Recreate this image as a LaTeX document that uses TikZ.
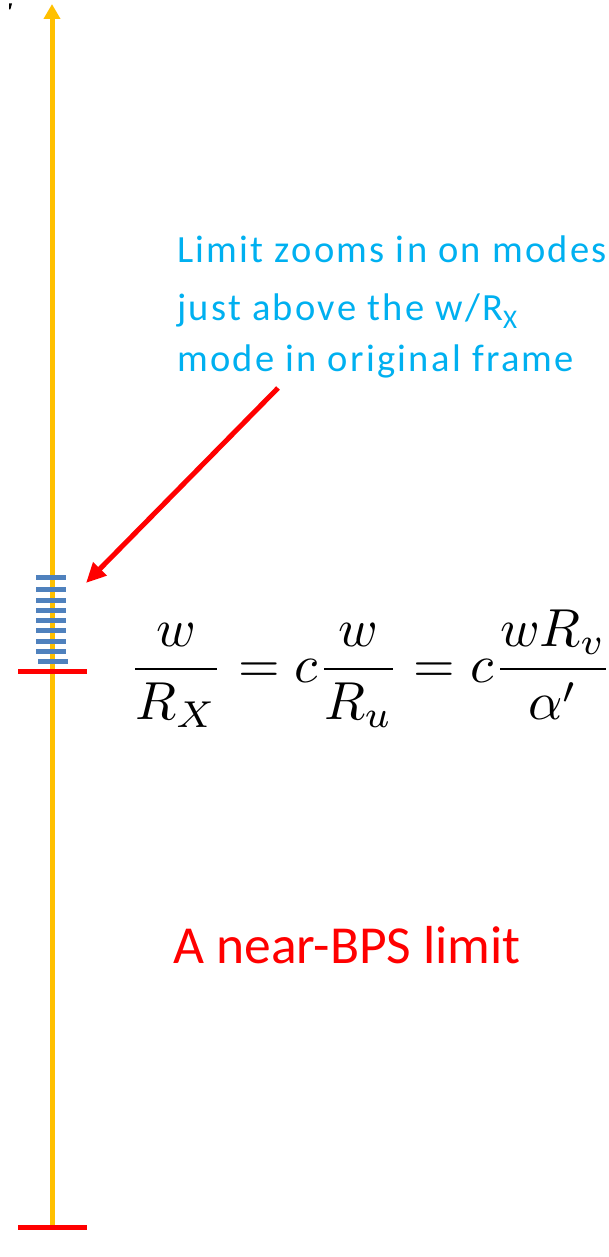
\documentclass[tikz,border=0pt]{standalone}
\usepackage{fontspec}
\setmainfont{Carlito}
\newfontfamily\notefont[LetterSpace=6.0]{Carlito}
\usetikzlibrary{arrows.meta}
\definecolor{axisgold}{HTML}{FFC000}
\definecolor{rungblue}{HTML}{4F81BD}
\definecolor{noteblue}{HTML}{00B0F0}
\definecolor{pptred}{HTML}{FF0000}
\tikzset{
  axisline/.style={draw=axisgold, line width=5pt, -{Triangle[length=15pt,width=16pt]}},
  redbar/.style={draw=pptred, line width=5pt},
  rung/.style={draw=rungblue, line width=5pt},
  pointer/.style={draw=pptred, line width=5pt, -{Triangle[length=20pt,width=18pt]}},
  notetext/.style={text=noteblue, font=\notefont\fontsize{38.5}{54.5}\selectfont, inner sep=0pt},
  bigtext/.style={text=pptred, font=\fontsize{53.5}{64}\selectfont, inner sep=0pt},
}
\begin{document}
\begin{tikzpicture}[x=1pt,y=-1pt]
\useasboundingbox (0,0) rectangle (608,1257);
% fragment at top-left
\fill[black] (9,3.5) -- (12,3.5) -- (10.3,9.5) -- (9.2,9.5) -- cycle;
% axis
\coordinate (axisbottom) at (52,1227.5);
\coordinate (axistop) at (52,4);
\draw[axisline] (axisbottom) -- (axistop);
% red bars
\coordinate (barLa) at (18,671.7);
\coordinate (barRa) at (87,671.7);
\coordinate (barLb) at (18,1227.5);
\coordinate (barRb) at (87,1227.5);
\draw[redbar] (barLa) -- (barRa);
\draw[redbar] (barLb) -- (barRb);
% rungs
\foreach \yy in {577.7,589.7,600,610,620,630,641.7,651.7}{
  \draw[rung] (36,\yy) -- (66,\yy);
}
\draw[rung] (38,661.7) -- (68,661.7);
\coordinate (rungtop) at (86,583);
% note text
\node[notetext, anchor=base west] (note1) at (177,262.7) {Limit zooms in on modes};
\node[notetext, anchor=base west] (note2) at (177,320) {just above the w/R\textsubscript{X}};
\node[notetext, anchor=base west] (note3) at (177,371.7) {mode in original frame};
\coordinate (arrowstart) at (278,388);
\draw[pointer] (arrowstart) -- (rungtop);
% equation
\node[anchor=base west, inner sep=0pt, scale=5.35] (eq) at (128,682.5) {$\displaystyle \frac{w}{R_X} = c\frac{w}{R_u} = c\frac{wR_v}{\alpha'}$};
% label
\node[bigtext, anchor=base west] (label) at (173,963) {A near-BPS limit};
\end{tikzpicture}
\end{document}
